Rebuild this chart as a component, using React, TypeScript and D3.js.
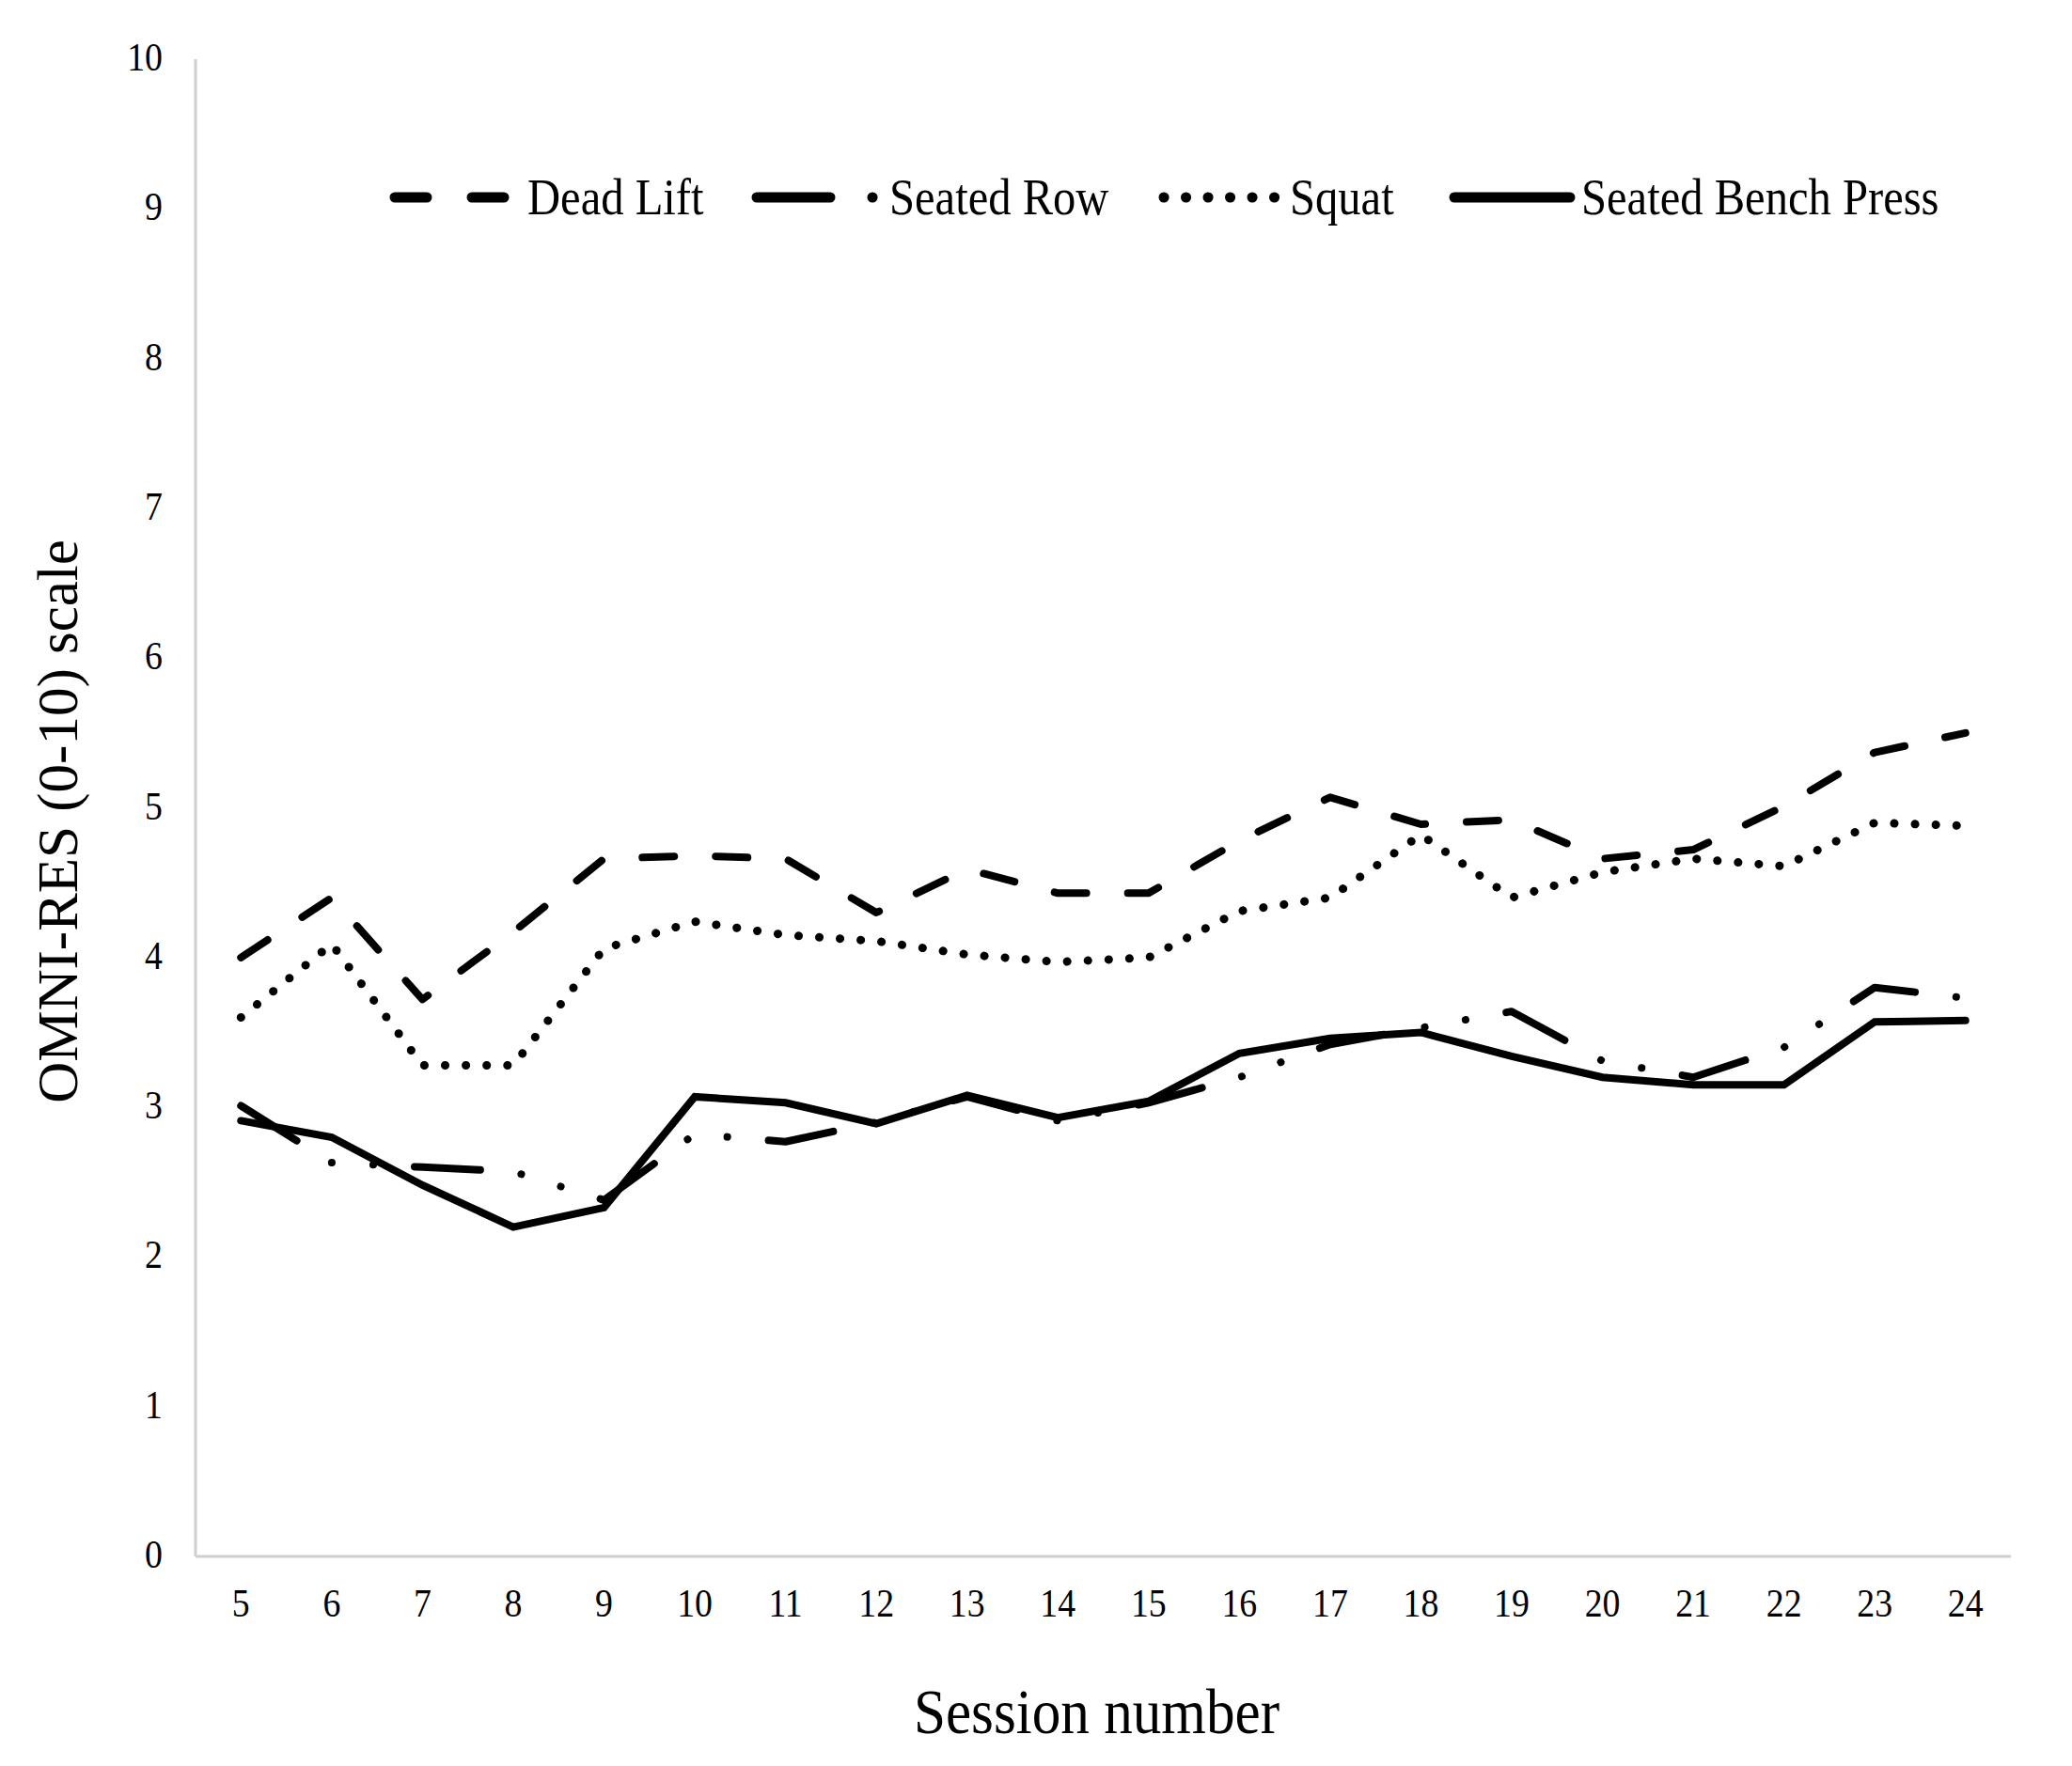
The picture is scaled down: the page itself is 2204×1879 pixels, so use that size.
import React from 'react';
import * as d3 from 'd3';

// sessions on the x axis
const sessions = [5, 6, 7, 8, 9, 10, 11, 12, 13, 14, 15, 16, 17, 18, 19, 20, 21, 22, 23, 24];

// mean OMNI-RES ratings per session
const deadLift = [4.0, 4.4, 3.72, 4.17, 4.66, 4.68, 4.66, 4.3, 4.59, 4.43, 4.43, 4.78, 5.07, 4.89, 4.92, 4.66, 4.72, 5.01, 5.37, 5.5];
const seatedRow = [3.01, 2.63, 2.6, 2.57, 2.38, 2.82, 2.77, 2.9, 3.07, 2.91, 3.03, 3.2, 3.42, 3.53, 3.64, 3.31, 3.2, 3.4, 3.8, 3.73];
const squat = [3.6, 4.09, 3.28, 3.28, 4.06, 4.24, 4.15, 4.11, 4.02, 3.97, 4.0, 4.31, 4.4, 4.82, 4.4, 4.57, 4.66, 4.61, 4.9, 4.88];
const benchPress = [2.91, 2.8, 2.48, 2.2, 2.33, 3.07, 3.03, 2.89, 3.08, 2.93, 3.04, 3.36, 3.46, 3.5, 3.34, 3.2, 3.15, 3.15, 3.57, 3.58];

const seriesNames = ['Dead Lift', 'Seated Row', 'Squat', 'Seated Bench Press'];
const yTicks = [0, 1, 2, 3, 4, 5, 6, 7, 8, 9, 10];

const W = 2204;
const H = 1879;
const left = 208;
const right = 2139;
const top = 63;
const bottom = 1656;
const FONT = '"Liberation Serif", "Times New Roman", serif';
const SQUEEZE = 0.9;

// line styles for the plot
const styles = [
  { dash: '34 44', width: 8, join: 'round' },
  { dash: '70 44 0.1 44 0.1 44', width: 8, join: 'round' },
  { dash: '0.1 22', width: 9, join: 'round' },
  { dash: 'none', width: 8, join: 'miter' },
];

// legend layout
const legendY = 210;
const legendItems = [
  { x1: 420, x2: 536, dash: '34 48', textX: 561 },
  { x1: 805, x2: 932, dash: '78 45 0.1 100', textX: 946 },
  { x1: 1238, x2: 1358, dash: '0.1 23.4', textX: 1372 },
  { x1: 1547, x2: 1670, dash: 'none', textX: 1682 },
];

const App: React.FC = () => {
  const x = d3.scalePoint<number>().domain(sessions).range([left, right]).padding(0.5);
  const y = d3.scaleLinear().domain([0, 10]).range([bottom, top]);

  const line = d3.line<number>()
    .x((_, i) => x(sessions[i]) as number)
    .y(d => y(d))
    .curve(d3.curveLinear);

  const series = [deadLift, seatedRow, squat, benchPress];

  return (
    <div style={{ position: 'absolute', left: 0, top: 0 }}>
      <svg width={W} height={H} style={{ display: 'block', background: '#fff' }} fontFamily={FONT}>
        <rect width={W} height={H} fill="#fff" />

        {/* axes */}
        <line x1={left} y1={top} x2={left} y2={bottom} stroke="#d0d0d0" strokeWidth={3} />
        <line x1={left} y1={bottom} x2={right} y2={bottom} stroke="#d0d0d0" strokeWidth={3} />

        {/* y tick labels */}
        {yTicks.map(t => (
          <text key={t} transform={`translate(173,${y(t) + 12}) scale(${SQUEEZE},1)`}
            textAnchor="end" fontSize={42} fill="#000">{t}</text>
        ))}

        {/* x tick labels */}
        {sessions.map(s => (
          <text key={s} transform={`translate(${x(s)},1720) scale(${SQUEEZE},1)`}
            textAnchor="middle" fontSize={42} fill="#000">{s}</text>
        ))}

        {/* axis titles */}
        <text transform={`translate(${(left + right) / 2 - 7},1844) scale(${SQUEEZE},1)`}
          textAnchor="middle" fontSize={68} fill="#000">Session number</text>
        <text transform={`translate(82,874) rotate(-90)`}
          textAnchor="middle" fontSize={61} fill="#000">OMNI-RES (0-10) scale</text>

        {/* series */}
        {series.map((vals, i) => (
          <path key={seriesNames[i]} d={line(vals) || ''} fill="none" stroke="#000"
            strokeWidth={styles[i].width}
            strokeDasharray={styles[i].dash}
            strokeLinecap="round"
            strokeLinejoin={styles[i].join as any} />
        ))}

        {/* legend */}
        {legendItems.map((l, i) => (
          <g key={seriesNames[i]}>
            <line x1={l.x1} x2={l.x2} y1={legendY} y2={legendY} stroke="#000"
              strokeWidth={11} strokeLinecap="round" strokeDasharray={l.dash} />
            <text transform={`translate(${l.textX},${legendY + 18}) scale(${SQUEEZE},1)`}
              fontSize={54} fill="#000">{seriesNames[i]}</text>
          </g>
        ))}
      </svg>
    </div>
  );
};

export default App;
